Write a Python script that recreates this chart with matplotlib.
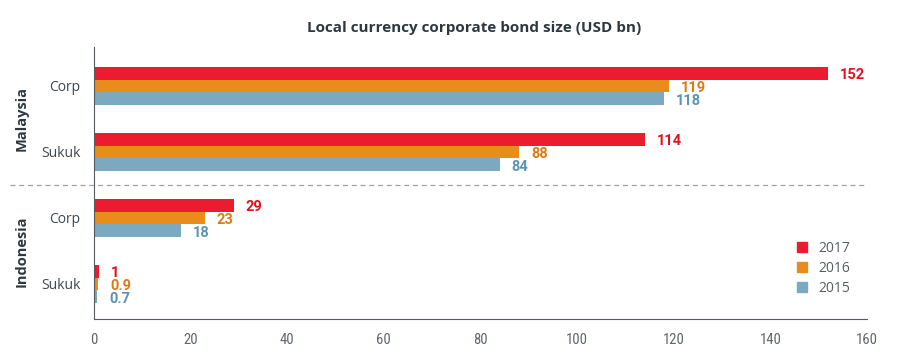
import numpy as np
import matplotlib.pyplot as plt
from matplotlib import font_manager as fm
from matplotlib.patches import Patch

# Data
countries = ['Malaysia', 'Indonesia']
types = ['Corp', 'Sukuk', 'Corp', 'Sukuk']
years = ['2017', '2016', '2015']
v2017 = [152, 114, 29, 1]
v2016 = [119, 88, 23, 0.9]
v2015 = [118, 84, 18, 0.7]
labels2017 = ['152', '114', '29', '1']
labels2016 = ['119', '88', '23', '0.9']
labels2015 = ['118', '84', '18', '0.7']

bar_colors = ['#ED1B2F', '#E88D1B', '#7BA9BF']
text_colors = ['#E3101F', '#DE7A12', '#5A93B3']
grey = '#555B61'


def pick_font(names):
    have = {f.name for f in fm.fontManager.ttflist}
    for n in names:
        if n in have:
            return n
    return 'DejaVu Sans'


narrow = pick_font(['Liberation Sans Narrow', 'Roboto Condensed', 'Open Sans Condensed', 'Roboto'])
plain = pick_font(['Roboto', 'Open Sans'])

fig = plt.figure(figsize=(9.04, 3.62), dpi=100)
ax = fig.add_axes([0.104, 0.119, 0.855, 0.751])

y = np.arange(len(types))
h = 0.192
series = [v2017, v2016, v2015]
labs = [labels2017, labels2016, labels2015]
for i, (vals, lab) in enumerate(zip(series, labs)):
    pos = y - h + i * h
    ax.barh(pos, vals, height=h, color=bar_colors[i], label=years[i])
    for p, v, t in zip(pos, vals, lab):
        ax.annotate(t, (v, p), xytext=(8.5, -1.5), textcoords='offset points',
                    va='center', ha='left', color=text_colors[i],
                    fontsize=10.5, fontweight='bold', family=plain)

ax.set_xlim(0, 160)
ax.set_ylim(3.53, -0.59)
ax.set_xticks(range(0, 161, 20))
ax.set_yticks(y)
ax.set_yticklabels(types)
ax.tick_params(axis='both', length=0, colors=grey, labelsize=10.5)
ax.tick_params(axis='x', pad=10)
ax.tick_params(axis='y', pad=10)
for lbl in ax.get_xticklabels():
    lbl.set_family(narrow)
    lbl.set_fontstretch('condensed')
    lbl.set_color('#5F656B')
for lbl in ax.get_yticklabels():
    lbl.set_family('Open Sans')
    lbl.set_fontsize(10)
    lbl.set_color('#3E464D')

for s in ['top', 'right']:
    ax.spines[s].set_visible(False)
ax.spines['left'].set_color(grey)
ax.spines['bottom'].set_color(grey)

# separator between countries
ax.plot([-17.4, 160], [1.5, 1.5], ls=(0, (4, 3)), color='#A0A0A0', lw=0.9, clip_on=False)

# country labels
for c, yc in zip(countries, [0.5, 2.5]):
    ax.text(-15.0, yc, c, rotation=90, va='center', ha='center',
            fontsize=10.5, fontweight='bold', color='#2F3840', family='Open Sans')

fig.text(0.525, 0.922, 'Local currency corporate bond size (USD bn)', ha='center', va='center',
         fontsize=11, fontweight='bold', color='#2F3840', family='Open Sans')

handles = [Patch(color=c) for c in bar_colors]
leg = ax.legend(handles, years, loc='lower right', bbox_to_anchor=(0.978, 0.085), frameon=False,
                borderaxespad=0, borderpad=0,
                handlelength=0.7, handleheight=0.7, handletextpad=0.8, labelspacing=0.35,
                fontsize=10)
for t in leg.get_texts():
    t.set_color(grey)
    t.set_family('Open Sans')

fig.savefig('out.png', dpi=100)
